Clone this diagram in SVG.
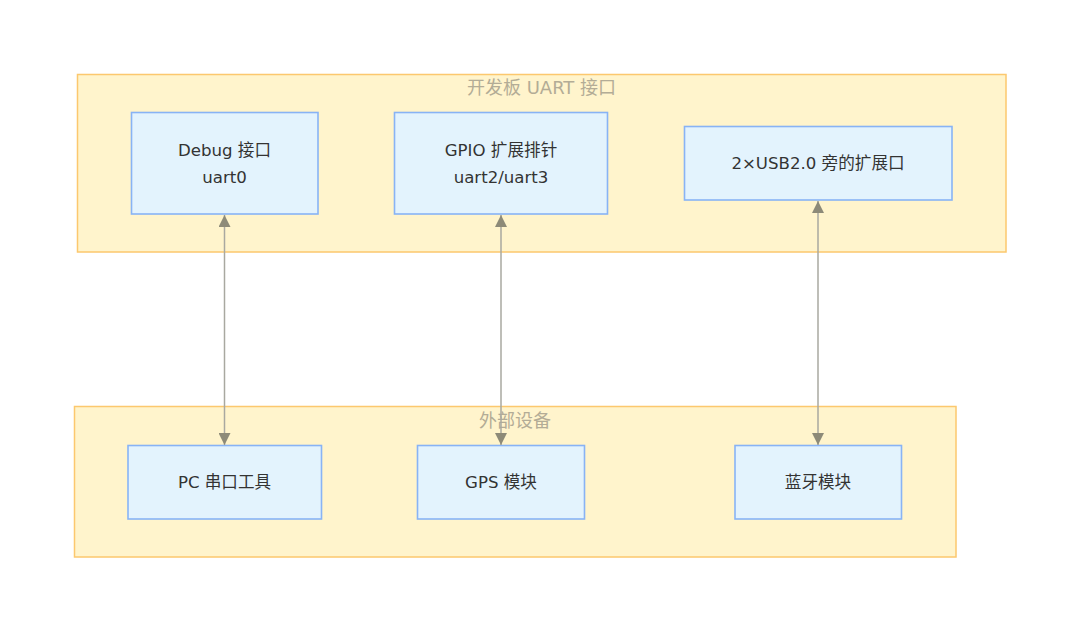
<svg xmlns="http://www.w3.org/2000/svg" width="1080" height="631" viewBox="0 0 1080 631">
<style>
  .cluster { fill: #fff4cc; stroke: #fcc86e; stroke-width: 1.5; }
  .ctitle { font-family: "DejaVu Sans", "Noto Sans CJK SC", sans-serif; font-size: 18px; fill: #b3ac96; text-anchor: middle; dominant-baseline: central; }
  .node rect { fill: #e3f3fd; stroke: #88b3f5; stroke-width: 1.6; }
  .node text { font-family: "DejaVu Sans", "Noto Sans CJK SC", sans-serif; font-size: 16.6px; fill: #333333; text-anchor: middle; dominant-baseline: central; }
  .edge { stroke: #a9a8a0; stroke-width: 1.5; fill: none; marker-start: url(#arrow); marker-end: url(#arrow); }
</style>
<defs>
  <marker id="arrow" markerUnits="userSpaceOnUse" markerWidth="12" markerHeight="12" viewBox="0 0 12 12" refX="12" refY="6" orient="auto-start-reverse">
    <path d="M0,0 L12,6 L0,12 z" fill="#8d8a78"/>
  </marker>
</defs>
<rect width="1080" height="631" fill="#ffffff"/>

<g id="cluster-board">
  <rect class="cluster" x="77.5" y="74.5" width="928.5" height="177.5"/>
  <text class="ctitle" x="541.5" y="87.5">开发板 UART 接口</text>
</g>
<g id="cluster-external">
  <rect class="cluster" x="74.5" y="406.5" width="881.5" height="150.5"/>
  <text class="ctitle" x="515" y="420">外部设备</text>
</g>

<g id="node-debug" class="node">
  <rect x="131.5" y="112.5" width="186.5" height="101.5"/>
  <text x="224.5" y="150">Debug 接口</text>
  <text x="224.5" y="177">uart0</text>
</g>
<g id="node-gpio" class="node">
  <rect x="394.5" y="112.5" width="213" height="101.5"/>
  <text x="501" y="150">GPIO 扩展排针</text>
  <text x="501" y="177">uart2/uart3</text>
</g>
<g id="node-usb" class="node">
  <rect x="684.5" y="126.5" width="267.5" height="73.5"/>
  <text x="818" y="163">2×USB2.0 旁的扩展口</text>
</g>
<g id="node-pc" class="node">
  <rect x="128" y="445.5" width="193.5" height="73.5"/>
  <text x="224.5" y="482">PC 串口工具</text>
</g>
<g id="node-gps" class="node">
  <rect x="417.5" y="445.5" width="167" height="73.5"/>
  <text x="501" y="482">GPS 模块</text>
</g>
<g id="node-bt" class="node">
  <rect x="735" y="445.5" width="166.5" height="73.5"/>
  <text x="818" y="482">蓝牙模块</text>
</g>

<g id="connectors">
  <line class="edge" x1="224.5" y1="215" x2="224.5" y2="445"/>
  <line class="edge" x1="501" y1="215" x2="501" y2="445"/>
  <line class="edge" x1="818" y1="201" x2="818" y2="445"/>
</g>
</svg>
